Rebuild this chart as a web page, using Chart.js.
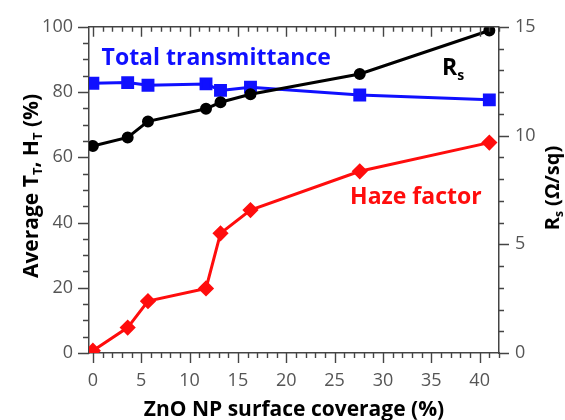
<!DOCTYPE html>
<html>
<head>
<meta charset="utf-8">
<script src="https://cdn.jsdelivr.net/npm/chart.js"></script>
<style>
  html, body { margin: 0; padding: 0; background: #fff; }
  #wrap { width: 565px; height: 420px; }
</style>
</head>
<body>
<div id="wrap"><canvas id="chart"></canvas></div>
<script>
// ZnO NP surface coverage (%)
const coverage = [0, 3.6, 5.7, 11.7, 13.2, 16.3, 27.6, 41.0];
// total transmittance T_T (%)
const transmittance = [82.7, 82.9, 82.1, 82.5, 80.5, 81.5, 79.1, 77.6];
// haze factor H_T (%)
const haze = [0.7, 7.8, 15.9, 19.8, 36.7, 43.8, 55.7, 64.5];
// sheet resistance R_s (ohm/sq)
const sheetRes = [9.52, 9.91, 10.65, 11.23, 11.53, 11.9, 12.83, 14.83];

const xTicks = [0, 5, 10, 15, 20, 25, 30, 35, 40];
const yTicks = [0, 20, 40, 60, 80, 100];
const y1Ticks = [0, 5, 10, 15];

const FONT = "'Open Sans', 'Noto Sans', sans-serif";
const AXIS = "#444444";
const TICKTXT = "#555555";
const BLUE = "#1010ff";
const RED = "#ff0d0d";

const pts = vals => coverage.map((x, i) => ({ x, y: vals[i] }));

// text made of normal / subscript pieces, drawn from x (left) on baseline y
function richWidth(ctx, parts, size) {
  let w = 0;
  for (const p of parts) {
    ctx.font = `bold ${p.sub ? Math.round(size * 0.62) : size}px ${FONT}`;
    w += ctx.measureText(p.t).width;
  }
  return w;
}
function richText(ctx, parts, x, y, size, color) {
  ctx.fillStyle = color;
  ctx.textBaseline = "alphabetic";
  ctx.textAlign = "left";
  for (const p of parts) {
    ctx.font = `bold ${p.sub ? Math.round(size * 0.62) : size}px ${FONT}`;
    ctx.fillText(p.t, x, y + (p.sub ? size * 0.2 : 0));
    x += ctx.measureText(p.t).width;
  }
}

const frame = {
  id: "frame",
  afterDraw(chart) {
    const { ctx, chartArea: a, scales } = chart;
    const { x, y, y1 } = scales;
    ctx.save();
    ctx.setLineDash([]);
    ctx.globalAlpha = 1;
    ctx.globalCompositeOperation = "source-over";
    ctx.strokeStyle = AXIS;
    ctx.lineCap = "butt";

    // top edge of the box
    ctx.lineWidth = 1.5;
    ctx.beginPath();
    ctx.moveTo(a.left, a.top);
    ctx.lineTo(a.right, a.top);
    ctx.stroke();

    ctx.lineWidth = 1.4;
    ctx.beginPath();
    // bottom (outward) and top (inward) ticks every 1 %
    for (let v = 0; v <= 42; v++) {
      const px = Math.round(x.getPixelForValue(v)) + 0.5;
      const len = v % 5 === 0 ? 10 : 5;
      ctx.moveTo(px, a.bottom);
      ctx.lineTo(px, a.bottom + len);
      ctx.moveTo(px, a.top);
      ctx.lineTo(px, a.top + len);
    }
    // left ticks every 5 %
    for (let v = 0; v <= 100; v += 5) {
      const py = Math.round(y.getPixelForValue(v)) + 0.5;
      const len = v % 20 === 0 ? 11 : 6;
      ctx.moveTo(a.left, py);
      ctx.lineTo(a.left - len, py);
    }
    // right ticks every 1 ohm/sq
    for (let v = 0; v <= 15; v++) {
      const py = Math.round(y1.getPixelForValue(v)) + 0.5;
      const len = v % 5 === 0 ? 10 : 5;
      ctx.moveTo(a.right, py);
      ctx.lineTo(a.right + len, py);
    }
    ctx.stroke();

    // axis titles
    const ts = 21;
    ctx.font = `bold ${ts}px ${FONT}`;
    ctx.fillStyle = "#000";
    ctx.textAlign = "center";
    ctx.textBaseline = "alphabetic";
    ctx.fillText("ZnO NP surface coverage (%)", (a.left + a.right) / 2, 416);

    const leftTitle = [{ t: "Average T" }, { t: "T", sub: true }, { t: ", H" }, { t: "T", sub: true }, { t: " (%)" }];
    ctx.save();
    ctx.translate(38, 186);
    ctx.rotate(-Math.PI / 2);
    richText(ctx, leftTitle, -richWidth(ctx, leftTitle, ts) / 2, 0, ts, "#000");
    ctx.restore();

    const rightTitle = [{ t: "R" }, { t: "s", sub: true }, { t: " (Ω/sq)" }];
    ctx.save();
    ctx.translate(559, 188);
    ctx.rotate(-Math.PI / 2);
    richText(ctx, rightTitle, -richWidth(ctx, rightTitle, 20) / 2, 0, 20, "#000");
    ctx.restore();

    // series labels
    const ls = 23;
    richText(ctx, [{ t: "Total transmittance" }], x.getPixelForValue(0.9), y.getPixelForValue(88.4), ls, BLUE);
    richText(ctx, [{ t: "Haze factor" }], x.getPixelForValue(26.6), y.getPixelForValue(45.6), ls, RED);
    richText(ctx, [{ t: "R" }, { t: "s", sub: true }], x.getPixelForValue(36.1), y.getPixelForValue(85.1), 23, "#000");
    ctx.restore();
  }
};

new Chart(document.getElementById("chart"), {
  type: "line",
  data: {
    datasets: [
      {
        label: "Rs",
        data: pts(sheetRes),
        yAxisID: "y1",
        borderColor: "#000",
        backgroundColor: "#000",
        borderWidth: 3,
        pointStyle: "circle",
        pointRadius: 4.5,
        order: 0
      },
      {
        label: "Total transmittance",
        data: pts(transmittance),
        yAxisID: "y",
        borderColor: BLUE,
        backgroundColor: BLUE,
        borderWidth: 3,
        pointStyle: "rect",
        pointRadius: 7,
        order: 1
      },
      {
        label: "Haze factor",
        data: pts(haze),
        yAxisID: "y",
        borderColor: RED,
        backgroundColor: RED,
        borderWidth: 3,
        pointStyle: "rectRot",
        pointRadius: 6,
        order: 2
      }
    ]
  },
  options: {
    responsive: true,
    maintainAspectRatio: false,
    animation: false,
    events: [],
    layout: { padding: { top: 24, left: 0, right: 0, bottom: 0 } },
    plugins: { legend: { display: false }, tooltip: { enabled: false } },
    scales: {
      x: {
        type: "linear",
        min: -0.4,
        max: 42,
        afterBuildTicks: s => { s.ticks = xTicks.map(value => ({ value })); },
        afterFit: s => { s.height = 67; },
        grid: { drawOnChartArea: false, drawTicks: false },
        border: { color: AXIS, width: 1.5 },
        ticks: { color: TICKTXT, padding: 17, maxRotation: 0, font: { family: FONT, size: 18 } }
      },
      y: {
        type: "linear",
        position: "left",
        min: 0,
        max: 100,
        afterBuildTicks: s => { s.ticks = yTicks.map(value => ({ value })); },
        afterFit: s => { s.width = 89; },
        grid: { drawOnChartArea: false, drawTicks: false },
        border: { color: AXIS, width: 1.5 },
        ticks: { color: TICKTXT, padding: 16, font: { family: FONT, size: 18 } }
      },
      y1: {
        type: "linear",
        position: "right",
        min: 0,
        max: 15,
        afterBuildTicks: s => { s.ticks = y1Ticks.map(value => ({ value })); },
        afterFit: s => { s.width = 66; },
        grid: { drawOnChartArea: false, drawTicks: false },
        border: { color: AXIS, width: 1.5 },
        ticks: { color: TICKTXT, padding: 16, font: { family: FONT, size: 18 } }
      }
    }
  },
  plugins: [frame]
});
</script>
</body>
</html>
